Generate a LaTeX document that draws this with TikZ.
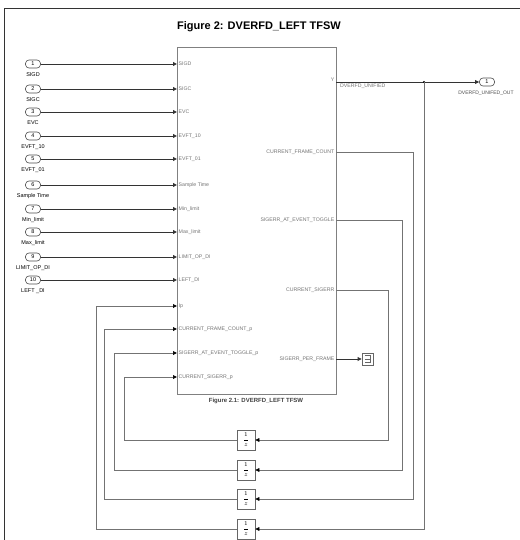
\documentclass[tikz,border=0pt]{standalone}
\usepackage{fontspec}
\setmainfont{Liberation Sans}
\usetikzlibrary{arrows.meta,calc}
\begin{document}
\begin{tikzpicture}[x=1pt,y=-1pt,
  inport/.style={draw=black!70,line width=0.6pt,rounded corners=3.5pt,minimum width=15pt,minimum height=8pt,inner sep=0pt,font=\fontsize{5.5}{6}\selectfont},
  plab/.style={font=\fontsize{5.5}{6}\selectfont,inner sep=0pt},
  ilab/.style={font=\fontsize{5.2}{6}\selectfont,text=black!55,inner sep=0pt,anchor=west},
  olab/.style={font=\fontsize{5.2}{6}\selectfont,text=black!55,inner sep=0pt,anchor=east},
  sig/.style={draw=black!80,line width=0.8pt,-{Triangle[length=4pt,width=3.8pt]}},
  fb/.style={draw=black!55,line width=0.7pt},
  fbtip/.style={fb,-{Triangle[length=4pt,width=3.8pt,fill=black,color=black]}},
  delay/.style={draw=black!60,line width=0.7pt,minimum width=18pt,minimum height=20pt,inner sep=0pt,font=\fontsize{6.5}{7}\selectfont},
  blk/.style={draw=black!50,line width=0.9pt,inner sep=0pt}
]
\useasboundingbox (0,0) rectangle (519,540);
% outer frame
\draw[black!80,line width=0.9pt] (4,545) -- (4,8) -- (522,8);
\node[font=\bfseries\fontsize{11}{13}\selectfont] (title) at (259,27) {Figure 2: DVERFD\_LEFT TFSW};

% main block
\node[blk,minimum width=159pt,minimum height=347pt,anchor=north west] (blk) at (177,47) {};
\node[font=\bfseries\fontsize{6}{7}\selectfont,text=black!75] (blkt) at (256,401) {Figure 2.1: DVERFD\_LEFT TFSW};

% input ports
\foreach \n/\yy/\lab/\plab in {1/64/SIGD/SIGD, 2/89/SIGC/SIGC, 3/112/EVC/EVC, 4/136/EVFT\_10/EVFT\_10, 5/159/EVFT\_01/EVFT\_01, 6/185/Sample Time/Sample Time, 7/209/Min\_limit/Min\_limit, 8/232/Max\_limit/Max\_limit, 9/257/LIMIT\_OP\_DI/LIMIT\_OP\_DI, 10/280/LEFT \_DI/LEFT\_DI}{
  \node[inport] (in\n) at (33,\yy) {\n};
  \node[plab] (inl\n) at (33,\yy+11) {\lab};
  \coordinate (pin\n) at (177,\yy);
  \node[ilab] (pinl\n) at (178.5,\yy) {\plab};
  \draw[sig] (in\n.east) -- (pin\n);
}

% feedback input pins
\coordinate (pin11) at (177,306);
\coordinate (pin12) at (177,329);
\coordinate (pin13) at (177,353);
\coordinate (pin14) at (177,377);
\node[ilab] (pinl11) at (178.5,306) {Ip};
\node[ilab] (pinl12) at (178.5,329) {CURRENT\_FRAME\_COUNT\_p};
\node[ilab] (pinl13) at (178.5,353) {SIGERR\_AT\_EVENT\_TOGGLE\_p};
\node[ilab] (pinl14) at (178.5,377) {CURRENT\_SIGERR\_p};

% outputs
\coordinate (oY) at (336,82);
\coordinate (oCFC) at (336,152);
\coordinate (oSAT) at (336,220);
\coordinate (oCS) at (336,290);
\coordinate (oSPF) at (336,359);
\node[olab] (oYl) at (334.5,80) {Y};
\node[olab] (oCFCl) at (334.5,152) {CURRENT\_FRAME\_COUNT};
\node[olab] (oSATl) at (334.5,220) {SIGERR\_AT\_EVENT\_TOGGLE};
\node[olab] (oCSl) at (334.5,290) {CURRENT\_SIGERR};
\node[olab] (oSPFl) at (334.5,359) {SIGERR\_PER\_FRAME};
\node[ilab,anchor=west] (sigl) at (340,86) {DVERFD\_UNIFIED};

% outport
\node[inport] (out1) at (487,82) {1};
\node[plab,font=\fontsize{5}{6}\selectfont,text=black!70] (outl) at (486,93) {DVERFD\_UNIFED\_OUT};
\coordinate (br) at (424,82);
\draw[sig] (oY) -- (out1.west);
\fill (br) circle (1.1pt);

% terminator
\node[draw=black!60,line width=0.6pt,minimum width=11pt,minimum height=12pt,inner sep=0pt] (term) at (367.5,359) {};
\draw[black!60,line width=0.5pt] ($(term.center)+(-3,-3.5)$) -- ($(term.center)+(2.5,-3.5)$) -- ($(term.center)+(2.5,3.5)$) -- ($(term.center)+(-3,3.5)$);
\draw[black!60,line width=0.5pt] ($(term.center)+(-3,0)$) -- ($(term.center)+(2.5,0)$);
\draw[sig] (oSPF) -- (term.west);

% unit delays
\node[delay] (d1) at (246,440) {$\displaystyle\frac{1}{z}$};
\node[delay] (d2) at (246,470) {$\displaystyle\frac{1}{z}$};
\node[delay] (d3) at (246,499) {$\displaystyle\frac{1}{z}$};
\node[delay] (d4) at (246,529) {$\displaystyle\frac{1}{z}$};

% right bends
\coordinate (r1) at (388,440);
\coordinate (r2) at (402,470);
\coordinate (r3) at (413,499);
\coordinate (r4) at (424,529);
\draw[fbtip] (oCS) -| (r1) -- (d1.east);
\draw[fbtip] (oSAT) -| (r2) -- (d2.east);
\draw[fbtip] (oCFC) -| (r3) -- (d3.east);
\draw[fbtip] (br) -- (r4) -- (d4.east);

% left bends
\coordinate (l1) at (124,440);
\coordinate (l2) at (114,470);
\coordinate (l3) at (104,499);
\coordinate (l4) at (96,529);
\draw[fbtip] (d1.west) -- (l1) |- (pin14);
\draw[fbtip] (d2.west) -- (l2) |- (pin13);
\draw[fbtip] (d3.west) -- (l3) |- (pin12);
\draw[fbtip] (d4.west) -- (l4) |- (pin11);
\end{tikzpicture}
\end{document}
